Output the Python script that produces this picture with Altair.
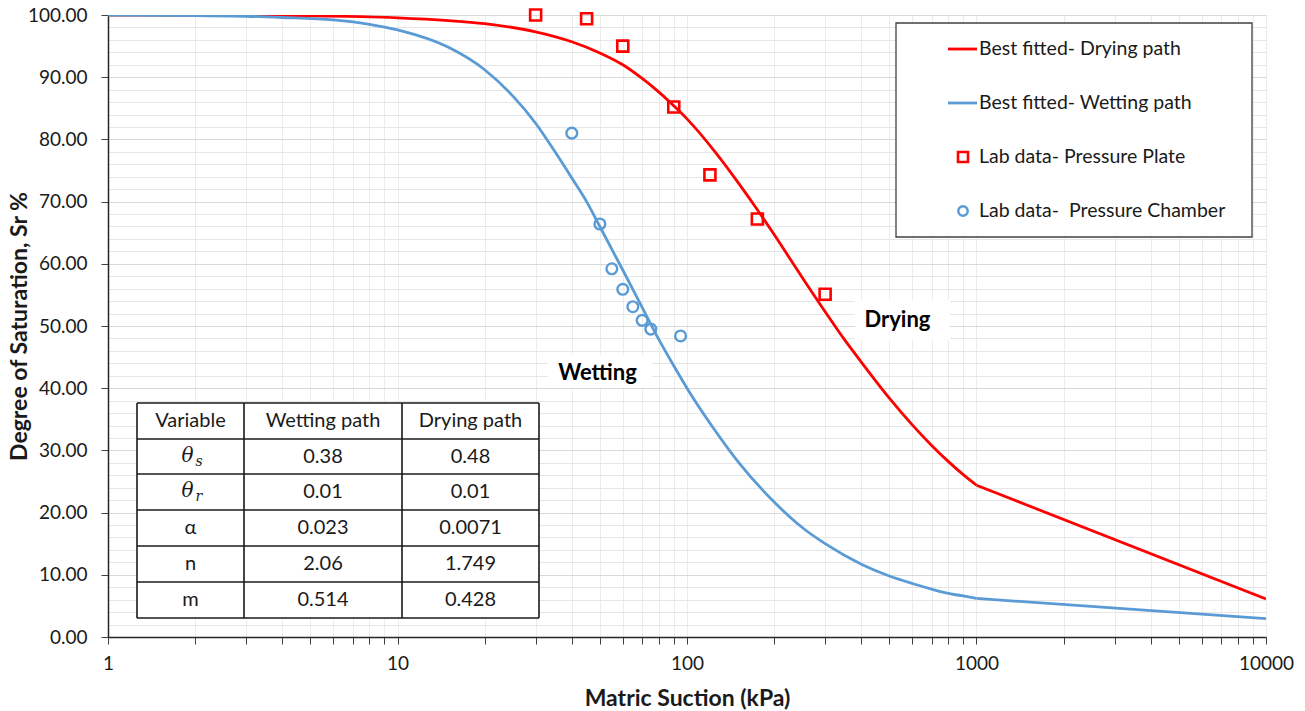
import altair as alt
import pandas as pd

# ---------------- data ----------------
wet_suction = [1, 2, 3, 4, 6, 8, 10, 15, 20, 25, 30, 35, 40, 45, 50, 60, 70, 80, 90, 100,
               125, 150, 200, 250, 300, 400, 500, 600, 700, 800, 900, 1000, 10000]
wet_sr = [100.0, 99.9, 99.8, 99.6, 99.2, 98.5, 97.6, 94.8, 91.2, 87.0, 82.6, 78.0, 73.8, 70.0,
          66.0, 59.0, 53.0, 47.8, 43.6, 40.0, 33.2, 28.2, 21.7, 17.6, 15.0, 11.7, 9.8, 8.6,
          7.7, 7.0, 6.6, 6.2, 2.95]

dry_suction = [1, 2, 5, 10, 15, 20, 30, 40, 50, 60, 70, 80, 90, 100, 125, 150, 175, 200,
               250, 300, 350, 400, 500, 600, 700, 800, 900, 1000, 10000]
dry_sr = [100.0, 99.95, 99.85, 99.55, 99.1, 98.6, 97.3, 95.7, 93.9, 92.0, 89.8, 87.6, 85.4,
          83.3, 78.0, 73.1, 68.7, 64.7, 57.8, 52.3, 47.8, 44.2, 38.4, 34.1, 30.8, 28.2, 26.1,
          24.4, 6.1]

plate_suction = [30, 45, 60, 90, 120, 175, 300]
plate_sr = [100.0, 99.4, 95.0, 85.2, 74.3, 67.2, 55.1]

chamber_suction = [40, 50, 55, 60, 65, 70, 75, 95]
chamber_sr = [81.0, 66.4, 59.2, 55.9, 53.1, 50.9, 49.5, 48.4]

legend_labels = ["Best fitted- Drying path", "Best fitted- Wetting path",
                 "Lab data- Pressure Plate", "Lab data-\u00a0 Pressure Chamber"]

table_header = ["Variable", "Wetting path", "Drying path"]
table_vars = ["θ", "θ", "α", "n", "m"]
table_var_sub = ["s", "r", "", "", ""]
table_wetting = ["0.38", "0.01", "0.023", "2.06", "0.514"]
table_drying = ["0.48", "0.01", "0.0071", "1.749", "0.428"]

annotations = ["Wetting", "Drying"]

# ---------------- layout / style ----------------
FONT = "Lato"
RED = "#FF0000"
BLUE = "#5B9BD5"
PLOT_W, PLOT_H = 1158, 622

x_ticks = [m * 10 ** e for e in range(4) for m in range(1, 10)] + [10000]
y_ticks = list(range(0, 101, 2))

x_scale = alt.Scale(type="log", domain=[1, 10000], nice=False)
y_scale = alt.Scale(domain=[0, 100], nice=False, zero=False)

x_axis = alt.Axis(
    values=x_ticks,
    labelExpr="indexof([1,10,100,1000,10000], datum.value) >= 0 ? format(datum.value, 'd') : ''",
    labelOverlap=False, labelFlush=False, labelBound=False,
    grid=True, gridColor="#ececec", gridWidth=1,
    tickSize=7, tickColor="#404040", labelPadding=10,
    domainColor="#262626", domainWidth=1.5,
    labelFont=FONT, labelFontSize=19, labelColor="#1a1a1a",
    title="Matric Suction (kPa)", titleFont=FONT, titleFontSize=23,
    titleFontWeight="bold", titleColor="#1a1a1a", titlePadding=14,
)
y_axis = alt.Axis(
    values=y_ticks,
    labelExpr="datum.value % 10 == 0 ? format(datum.value, '.2f') : ''",
    labelOverlap=False, labelFlush=False, labelBound=False,
    grid=True,
    gridColor={"condition": {"test": "datum.value % 10 == 0", "value": "#d9d9d9"}, "value": "#e6e6e6"},
    tickOpacity={"condition": {"test": "datum.value % 10 == 0", "value": 1}, "value": 0},
    tickSize=7, tickColor="#404040", labelPadding=14,
    domainColor="#262626", domainWidth=1.5,
    labelFont=FONT, labelFontSize=19, labelColor="#1a1a1a",
    title="Degree of Saturation, Sr %", titleFont=FONT, titleFontSize=23,
    titleFontWeight="bold", titleColor="#1a1a1a",
    titleX=-89, titleY=PLOT_H / 2, titleAngle=270, titleAlign="center", titleBaseline="middle",
)


def X(field):
    return alt.X(f"{field}:Q", scale=x_scale, axis=x_axis)


def Y(field):
    return alt.Y(f"{field}:Q", scale=y_scale, axis=y_axis)


def PX(field):
    return alt.X(f"{field}:Q", scale=None, axis=None)


def PY(field):
    return alt.Y(f"{field}:Q", scale=None, axis=None)


# fitted curves: smooth part up to 1000 kPa, then the straight segment to 10000 kPa
KINK = 1000
wet_df = pd.DataFrame({"suction": wet_suction, "sr": wet_sr})
dry_df = pd.DataFrame({"suction": dry_suction, "sr": dry_sr})
plate_df = pd.DataFrame({"suction": plate_suction, "sr": plate_sr})
chamber_df = pd.DataFrame({"suction": chamber_suction, "sr": chamber_sr})


def curve(df, color):
    smooth = alt.Chart(df[df.suction <= KINK]).mark_line(
        color=color, strokeWidth=2.8, clip=True, interpolate="monotone").encode(
        x=X("suction"), y=Y("sr"))
    tail = alt.Chart(df[df.suction >= KINK]).mark_line(
        color=color, strokeWidth=2.8, clip=True).encode(
        x=X("suction"), y=Y("sr"))
    return smooth, tail


dry_smooth, dry_tail = curve(dry_df, RED)
wet_smooth, wet_tail = curve(wet_df, BLUE)

plate_pts = alt.Chart(plate_df).mark_point(
    shape="square", filled=False, color=RED, size=121, strokeWidth=2.6, opacity=1).encode(
    x=X("suction"), y=Y("sr"))
chamber_pts = alt.Chart(chamber_df).mark_point(
    shape="circle", filled=False, color=BLUE, size=115, strokeWidth=2.4, opacity=1).encode(
    x=X("suction"), y=Y("sr"))

# ---------------- annotations (pixel positions inside plot) ----------------
ann_box = pd.DataFrame({"x": [440, 747], "x2": [544, 842], "y": [340, 285], "y2": [373, 325]})
ann_txt = pd.DataFrame({"x": [489.5, 789.5], "y": [358, 305], "t": annotations})
ann_boxes = alt.Chart(ann_box).mark_rect(fill="white").encode(
    x=PX("x"), x2="x2:Q", y=PY("y"), y2="y2:Q")
ann_text = alt.Chart(ann_txt).mark_text(
    font=FONT, fontSize=22, fontWeight="bold", color="black", baseline="middle", align="center"
).encode(x=PX("x"), y=PY("y"), text="t:N")

# ---------------- parameter table ----------------
col_edges = [29, 136, 294, 431]
row_edges = [388, 424, 459, 495, 531, 567, 603]

segs = []
for r in row_edges:
    segs.append({"x": col_edges[0], "x2": col_edges[-1], "y": r, "y2": r})
for c in col_edges:
    segs.append({"x": c, "x2": c, "y": row_edges[0], "y2": row_edges[-1]})
seg_df = pd.DataFrame(segs)

cells = []
rows = [table_header] + [[v, w, d] for v, w, d in zip(table_vars, table_wetting, table_drying)]
for i, row in enumerate(rows):
    cy = (row_edges[i] + row_edges[i + 1]) / 2
    for j, txt in enumerate(row):
        if i > 0 and j == 0:
            continue
        cx = (col_edges[j] + col_edges[j + 1]) / 2
        cells.append({"x": cx, "y": cy, "t": txt})
cell_df = pd.DataFrame(cells)

var_main, var_sub = [], []
for i, (v, s) in enumerate(zip(table_vars, table_var_sub)):
    cy = (row_edges[i + 1] + row_edges[i + 2]) / 2
    cx = (col_edges[0] + col_edges[1]) / 2
    if s:
        var_main.append({"x": cx - 3, "y": cy - 1, "t": v, "kind": "theta"})
        var_sub.append({"x": cx + 5, "y": cy + 5, "t": s})
    else:
        var_main.append({"x": cx, "y": cy, "t": v, "kind": "plain"})
var_main_df = pd.DataFrame(var_main)
var_sub_df = pd.DataFrame(var_sub)

table_bg = alt.Chart(pd.DataFrame({"a": [0]})).mark_rect(fill="white").encode(
    x=alt.value(col_edges[0]), x2=alt.value(col_edges[-1]),
    y=alt.value(row_edges[0]), y2=alt.value(row_edges[-1]))
table_lines = alt.Chart(seg_df).mark_rule(color="#1a1a1a", strokeWidth=1.6).encode(
    x=PX("x"), x2="x2:Q", y=PY("y"), y2="y2:Q")
table_text = alt.Chart(cell_df).mark_text(
    font=FONT, fontSize=20, color="#1a1a1a", baseline="middle", align="center"
).encode(x=PX("x"), y=PY("y"), text="t:N")
theta_text = alt.Chart(var_main_df[var_main_df.kind == "theta"]).mark_text(
    font="DejaVu Serif", fontSize=20, fontStyle="italic", color="#1a1a1a",
    baseline="middle", align="center"
).encode(x=PX("x"), y=PY("y"), text="t:N")
plain_var_text = alt.Chart(var_main_df[var_main_df.kind == "plain"]).mark_text(
    font=FONT, fontSize=20, color="#1a1a1a", baseline="middle", align="center"
).encode(x=PX("x"), y=PY("y"), text="t:N")
sub_text = alt.Chart(var_sub_df).mark_text(
    font="DejaVu Serif", fontSize=14, fontStyle="italic", color="#1a1a1a",
    baseline="middle", align="left"
).encode(x=PX("x"), y=PY("y"), text="t:N")

# ---------------- legend (drawn) ----------------
LEG_X0, LEG_X1, LEG_Y0, LEG_Y1 = 788, 1144, 8, 222
leg_rows = [34, 88, 142, 196]
leg_box = alt.Chart(pd.DataFrame({"a": [0]})).mark_rect(
    fill="white", stroke="#404040", strokeWidth=1.3).encode(
    x=alt.value(LEG_X0), x2=alt.value(LEG_X1), y=alt.value(LEG_Y0), y2=alt.value(LEG_Y1))
leg_red_line = alt.Chart(pd.DataFrame({"a": [0]})).mark_rule(color=RED, strokeWidth=2.8).encode(
    x=alt.value(840), x2=alt.value(869), y=alt.value(leg_rows[0]))
leg_blue_line = alt.Chart(pd.DataFrame({"a": [0]})).mark_rule(color=BLUE, strokeWidth=2.8).encode(
    x=alt.value(840), x2=alt.value(869), y=alt.value(leg_rows[1]))
leg_square = alt.Chart(pd.DataFrame({"a": [0]})).mark_point(
    shape="square", filled=False, color=RED, size=100, strokeWidth=2.6, opacity=1).encode(
    x=alt.value(855), y=alt.value(leg_rows[2]))
leg_circle = alt.Chart(pd.DataFrame({"a": [0]})).mark_point(
    shape="circle", filled=False, color=BLUE, size=90, strokeWidth=2.4, opacity=1).encode(
    x=alt.value(855), y=alt.value(leg_rows[3]))
leg_text = alt.Chart(pd.DataFrame({"x": [871] * 4, "y": leg_rows, "t": legend_labels})).mark_text(
    font=FONT, fontSize=19.5, color="#1a1a1a", baseline="middle", align="left"
).encode(x=PX("x"), y=PY("y"), text="t:N")

chart = alt.layer(
    dry_smooth, dry_tail, wet_smooth, wet_tail,
    ann_boxes, ann_text,
    table_bg, table_lines, table_text, theta_text, plain_var_text, sub_text,
    plate_pts, chamber_pts,
    leg_box, leg_red_line, leg_blue_line, leg_square, leg_circle, leg_text,
).properties(
    width=PLOT_W, height=PLOT_H,
    autosize=alt.AutoSizeParams(type="none"),
    padding={"left": 108, "top": 15, "right": 39, "bottom": 74},
).configure_view(
    stroke="#7f7f7f", strokeWidth=1.5
).configure(background="white")

chart.save("out.html", embed_options={"renderer": "svg", "actions": False})
